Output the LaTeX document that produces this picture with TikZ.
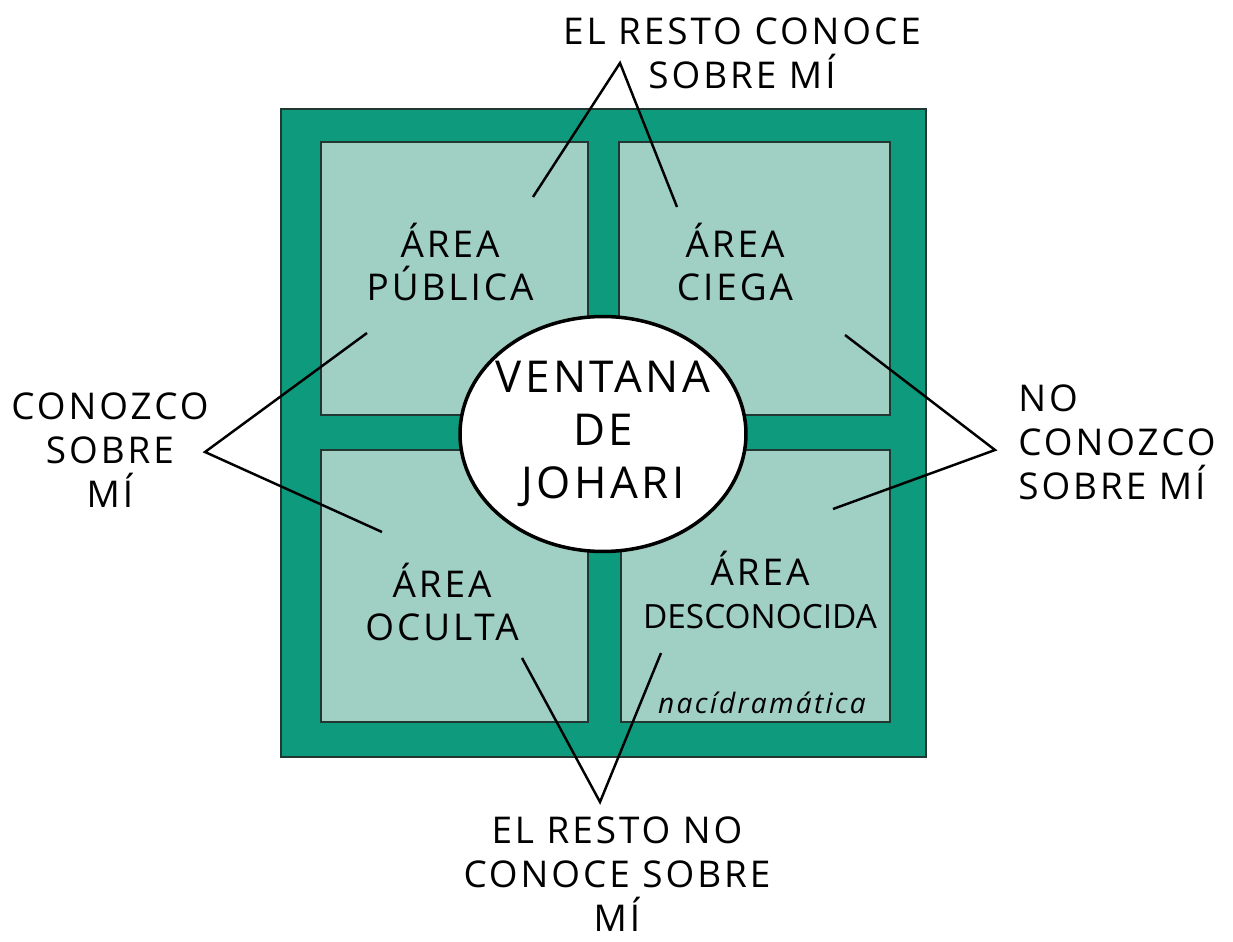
\documentclass[tikz,border=0pt]{standalone}
\usepackage{fontspec}
\setmainfont{Open Sans}[LetterSpace=8]
\usepackage{tikz}
\usetikzlibrary{shapes.geometric}

\definecolor{johdark}{RGB}{14,154,124}
\definecolor{johlight}{RGB}{160,207,195}
\definecolor{johline}{RGB}{35,55,50}

\begin{document}
\begin{tikzpicture}[x=0.02cm, y=-0.02cm,
    area/.style={fill=johlight, draw=johline, line width=1pt},
    lbl/.style={font=\fontsize{21}{25}\selectfont, align=center, inner sep=0pt},
    leg/.style={line width=1.4pt, black}]
        \useasboundingbox (0,0) rectangle (1233,942);

        % Frame
        \draw[fill=johdark, draw=johline, line width=1pt] (281,109) rectangle (926,757);

        % Quadrants
        \draw[area] (321,142) rectangle (588,415);
        \draw[area] (619,142) rectangle (890,415);
        \draw[area] (321,450) rectangle (588,722);
        \draw[area] (621,450) rectangle (890,722);

        % Quadrant names
        \node[lbl] (publica) at (450,262) {ÁREA\\PÚBLICA};
        \node[lbl] (ciega) at (735,262) {ÁREA\\CIEGA};
        \node[lbl] (oculta) at (442,602) {ÁREA\\OCULTA};
        \node[lbl] (desconocida) at (760,590)
              {ÁREA\\{\fontsize{19}{25}\selectfont\addfontfeature{LetterSpace=0}DESCONOCIDA}};
        \node[font=\itshape\fontsize{16}{18}\selectfont, inner sep=0pt] (firma) at (762,703) {nacídramática};

        % Centre
        \node[ellipse, fill=white, draw=black, line width=2pt, minimum width=5.72cm, minimum height=4.7cm,
              inner sep=0pt] (johari) at (603,434) {};
        \node[align=center, font=\fontsize{25}{30}\selectfont, inner sep=0pt] (johtext) at (johari)
              {VENTANA\\DE\\JOHARI};

        % Outer labels
        \node[lbl] (arriba) at (742,53) {EL RESTO CONOCE\\SOBRE MÍ};
        \node[lbl, align=center] (izq) at (110,450) {CONOZCO\\SOBRE\\MÍ};
        \node[lbl, align=left, anchor=west] (der) at (1018,442) {NO\\CONOZCO\\SOBRE MÍ};
        \node[lbl] (abajo) at (617,874) {EL RESTO NO\\CONOCE SOBRE\\MÍ};

        % Apexes and ends
        \coordinate (topapex) at (620,63);
        \coordinate (leftapex) at (205,452);
        \coordinate (rightapex) at (995,450);
        \coordinate (botapex) at (600,802);
        \coordinate (pubA) at (533,197);
        \coordinate (pubB) at (367,333);
        \coordinate (ciegaA) at (677,207);
        \coordinate (ciegaB) at (845,335);
        \coordinate (ocultaA) at (382,532);
        \coordinate (ocultaB) at (522,658);
        \coordinate (descA) at (833,509);
        \coordinate (descB) at (661,653);

        % Connectors
        \draw[leg] (pubA) -- (topapex) -- (ciegaA);
        \draw[leg] (pubB) -- (leftapex) -- (ocultaA);
        \draw[leg] (ciegaB) -- (rightapex) -- (descA);
        \draw[leg] (ocultaB) -- (botapex) -- (descB);
    \end{tikzpicture}
\end{document}
